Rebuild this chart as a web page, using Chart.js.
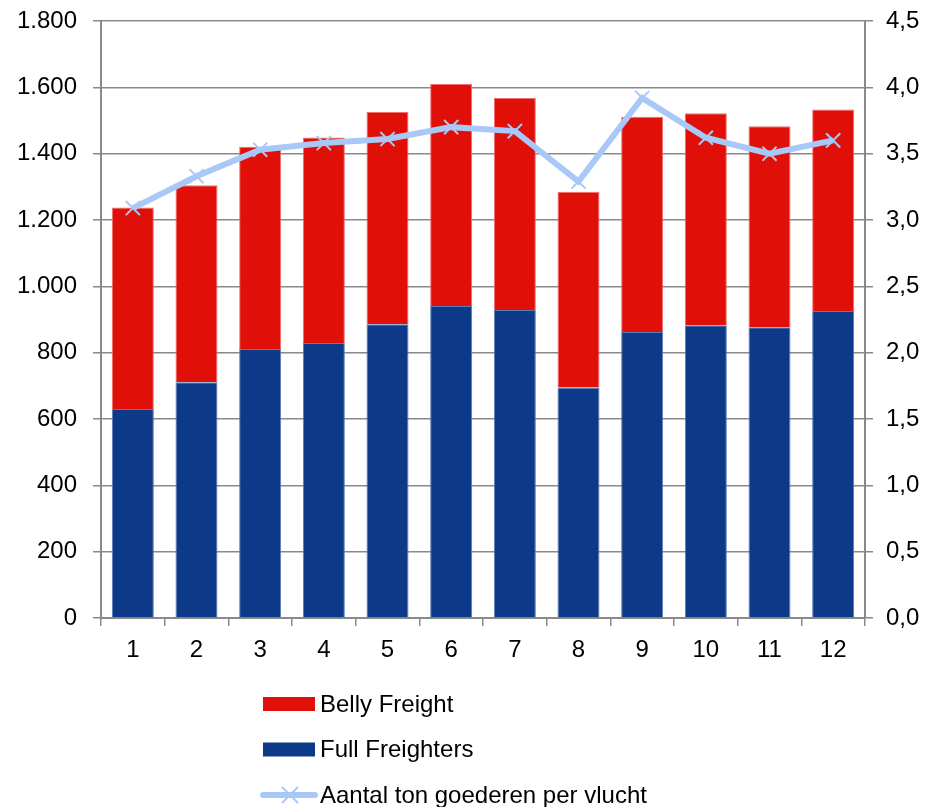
<!DOCTYPE html>
<html>
<head>
<meta charset="utf-8">
<script src="https://cdn.jsdelivr.net/npm/chart.js@4/dist/chart.umd.min.js"></script>
<style>
  html, body { margin: 0; padding: 0; background: #fff; }
  #wrap { width: 929px; height: 807px; }
</style>
</head>
<body>
<div id="wrap"><canvas id="chart" width="929" height="807"></canvas></div>
<script>
const months = ['1', '2', '3', '4', '5', '6', '7', '8', '9', '10', '11', '12']
const fullFreighters = [630, 711, 811, 829, 886, 941, 929, 695, 862, 883, 877, 926]
const bellyFreight = [608, 594, 610, 620, 640, 669, 639, 590, 649, 639, 606, 607]
const tonsPerFlight = [3.09, 3.33, 3.53, 3.58, 3.61, 3.70, 3.67, 3.29, 3.92, 3.62, 3.50, 3.60]

const RED = '#E00F07'
const BLUE = '#0C3A88'
const LIGHT = '#A8C8F8'
const GRID = '#898989'
const FONT = { family: 'Liberation Sans, Arial, sans-serif', size: 24 }

// legend stacked vertically under the x axis, as in the original
const verticalLegend = {
  id: 'verticalLegend',
  afterDraw (chart) {
    const ctx = chart.ctx
    const ds = chart.data.datasets
    const items = [ds[1], ds[0], ds[2]]
    const x = 263
    let y = 704
    ctx.save()
    ctx.font = `${FONT.size}px ${FONT.family}`
    ctx.textBaseline = 'middle'
    items.forEach(d => {
      if (d.type === 'line') {
        ctx.strokeStyle = d.borderColor
        ctx.lineWidth = 6
        ctx.lineCap = 'round'
        ctx.beginPath()
        ctx.moveTo(x, y)
        ctx.lineTo(x + 52, y)
        ctx.stroke()
        ctx.lineWidth = 2
        ctx.lineCap = 'butt'
        ctx.beginPath()
        ctx.moveTo(x + 19, y - 8)
        ctx.lineTo(x + 35, y + 8)
        ctx.moveTo(x + 35, y - 8)
        ctx.lineTo(x + 19, y + 8)
        ctx.stroke()
      } else {
        ctx.fillStyle = d.backgroundColor
        ctx.fillRect(x, y - 7, 52, 14)
      }
      ctx.fillStyle = '#000'
      ctx.fillText(d.label, x + 57, y + 1)
      y += 45.5
    })
    ctx.restore()
  }
}

// fixed axis sizes, no extra room for overhanging labels
const fixWidth = (w) => (s) => {
  s.width = w
  s.paddingTop = 0
  s.paddingBottom = 0
}

const config = {
  type: 'bar',
  data: {
    labels: months,
    datasets: [{
      label: 'Full Freighters',
      data: fullFreighters,
      backgroundColor: BLUE,
      borderColor: '#5A7DB8',
      borderWidth: 1,
      yAxisID: 'y',
      order: 1,
      barPercentage: 0.66,
      categoryPercentage: 1
    }, {
      label: 'Belly Freight',
      data: bellyFreight,
      backgroundColor: RED,
      borderColor: '#F07070',
      borderWidth: 1,
      yAxisID: 'y',
      order: 1,
      barPercentage: 0.66,
      categoryPercentage: 1
    }, {
      type: 'line',
      label: 'Aantal ton goederen per vlucht',
      data: tonsPerFlight,
      borderColor: LIGHT,
      backgroundColor: LIGHT,
      borderWidth: 6,
      pointStyle: 'crossRot',
      pointRadius: 10,
      pointBorderWidth: 2,
      pointBorderColor: LIGHT,
      tension: 0,
      yAxisID: 'y1',
      order: 0
    }]
  },
  options: {
    responsive: false,
    animation: false,
    layout: { padding: { top: 21, left: 0, right: 0, bottom: 139 } },
    plugins: {
      legend: { display: false },
      tooltip: { enabled: false }
    },
    scales: {
      x: {
        stacked: true,
        afterFit: (s) => { s.height = 50; s.paddingLeft = 0; s.paddingRight = 0 },
        grid: { drawOnChartArea: false, color: GRID, lineWidth: 1.5, tickLength: 8, offset: true },
        border: { color: GRID, width: 2 },
        ticks: { color: '#000', font: FONT, padding: 10 }
      },
      y: {
        stacked: true,
        position: 'left',
        min: 0,
        max: 1800,
        afterFit: fixWidth(101),
        grid: { color: GRID, lineWidth: 1.5, tickLength: 8 },
        border: { color: GRID, width: 2 },
        ticks: {
          stepSize: 200,
          color: '#000',
          font: FONT,
          padding: 16,
          callback: (v) => v.toLocaleString('nl-NL')
        }
      },
      y1: {
        position: 'right',
        min: 0,
        max: 4.5,
        afterFit: fixWidth(64),
        grid: { drawOnChartArea: false, color: GRID, lineWidth: 1.5, tickLength: 8 },
        border: { color: GRID, width: 2 },
        ticks: {
          stepSize: 0.5,
          color: '#000',
          font: FONT,
          padding: 13,
          callback: (v) => v.toFixed(1).replace('.', ',')
        }
      }
    }
  },
  plugins: [verticalLegend]
}

window.freightChart = new Chart(document.getElementById('chart').getContext('2d'), config)
</script>
</body>
</html>
